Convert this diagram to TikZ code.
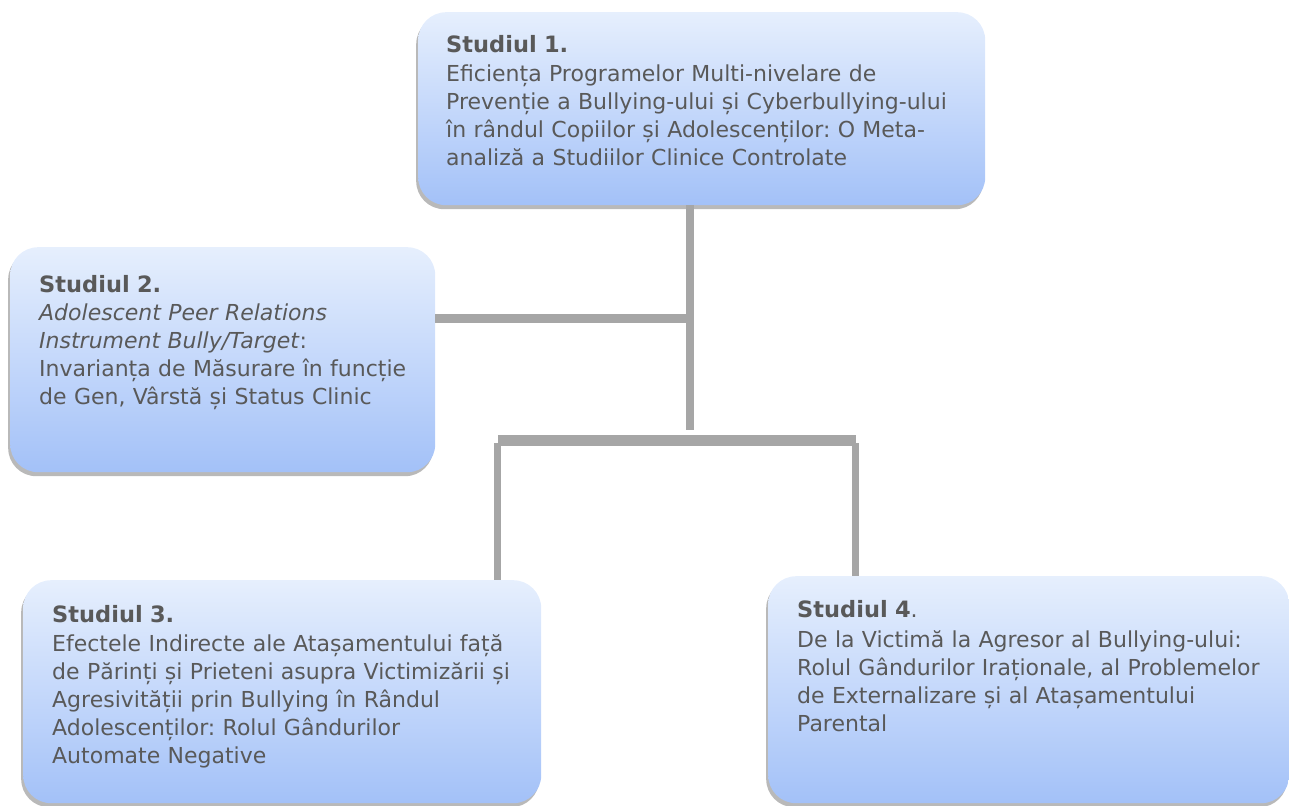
\documentclass[tikz,border=0pt]{standalone}
\usepackage{fontspec}
\setmainfont{DejaVu Sans}
\usetikzlibrary{shadows}
\definecolor{txt}{HTML}{595959}
\definecolor{topc}{HTML}{E6EFFD}
\definecolor{midc}{HTML}{D3E2FC}
\definecolor{botc}{HTML}{A3C1F8}
\definecolor{conn}{HTML}{A6A6A6}
\newcommand{\ttl}[1]{{\fontsize{22.5bp}{28bp}\selectfont\bfseries #1}}
\begin{document}
\frenchspacing
\begin{tikzpicture}[x=1bp,y=-1bp,
  boxsty/.style={anchor=north west, rounded corners=28bp, draw=none,
    top color=topc, middle color=midc, bottom color=botc,
    drop shadow={shadow xshift=-2bp, shadow yshift=-4bp, fill=black!50, opacity=0.55},
    inner sep=0pt},
  txtsty/.style={anchor=north west, inner sep=0pt, align=left, text width=560bp,
    text=txt, font=\fontsize{22bp}{28bp}\selectfont\frenchspacing},
  conline/.style={draw=conn, line width=#1},
  conline/.default=9bp]
\useasboundingbox (0,0) rectangle (1289,806);
% boxes
\node[boxsty, minimum width=567bp, minimum height=193bp] (b1) at (418,12) {};
\node[boxsty, minimum width=425bp, minimum height=225bp] (b2) at (10,247) {};
\node[boxsty, minimum width=518bp, minimum height=223bp] (b3) at (23,580) {};
\node[boxsty, minimum width=521bp, minimum height=227bp] (b4) at (768,576) {};
% texts
\node[txtsty] (t1) at (446,35) {\ttl{Studiul 1.}\\[1bp]
Eficiența Programelor Multi-nivelare de\\
Prevenție a Bullying-ului și Cyberbullying-ului\\
în rândul Copiilor și Adolescenților: O Meta-\\
analiză a Studiilor Clinice Controlate};
\node[txtsty] (t2) at (39,275) {\ttl{Studiul 2.}\\
\textit{Adolescent Peer Relations}\\
\textit{Instrument Bully/Target}:\\
Invarianța de Măsurare în funcție\\
de Gen, Vârstă și Status Clinic};
\node[txtsty] (t3) at (52,605) {\ttl{Studiul 3.}\\[1bp]
Efectele Indirecte ale Atașamentului față\\
de Părinți și Prieteni asupra Victimizării și\\
Agresivității prin Bullying în Rândul\\
Adolescenților: Rolul Gândurilor\\
Automate Negative};
\node[txtsty] (t4) at (797,600) {\ttl{Studiul 4}.\\[2bp]
De la Victimă la Agresor al Bullying-ului:\\
Rolul Gândurilor Iraționale, al Problemelor\\
de Externalizare și al Atașamentului\\
Parental};
% connectors
\coordinate (j1) at (690,430);
\coordinate (h2) at (690,318);
\coordinate (bl) at (497,440);
\coordinate (br) at (855,440);
\draw[conline=8bp] (b1.south -| j1) -- (j1);
\draw[conline=9bp] (b2.east |- h2) -- (h2);
\draw[conline=11bp] ([xshift=1bp]bl) -- ([xshift=1bp]br);
\draw[conline=7bp] ([yshift=-3bp]bl) -- (bl |- b3.north);
\draw[conline=7bp] ([yshift=-3bp]br) -- (br |- b4.north);
\end{tikzpicture}
\end{document}
